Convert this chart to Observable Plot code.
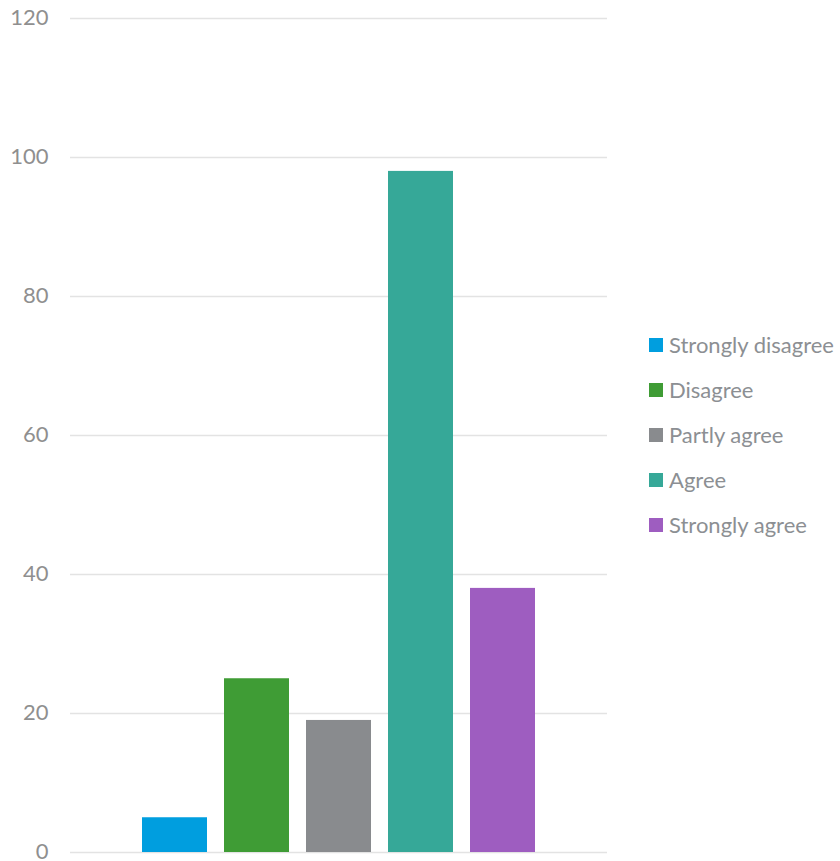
<!DOCTYPE html>
<html>
<head>
<meta charset="utf-8">
<script src="https://cdn.jsdelivr.net/npm/d3@7"></script>
<script src="https://cdn.jsdelivr.net/npm/@observablehq/plot@0.6"></script>
<style>
  html, body { margin: 0; padding: 0; background: #fff; }
  #wrap { position: relative; width: 840px; height: 861px; font-family: Lato, "Open Sans", sans-serif; }
  #legend { position: absolute; left: 649px; top: 322px; }
  .item { display: flex; align-items: center; height: 45px; font-size: 22px; color: #8c8f93; white-space: nowrap; }
  .sw { width: 14px; height: 14px; margin-right: 6px; flex: none; }
</style>
</head>
<body>
<div id="wrap"><div id="legend"></div></div>
<script>
const categories = ["Strongly disagree", "Disagree", "Partly agree", "Agree", "Strongly agree"];
const values = [5, 25, 19, 98, 38];
const colors = ["#009EDF", "#3F9C35", "#898B8E", "#36A898", "#9E5DC0"];
const yTicks = [0, 20, 40, 60, 80, 100, 120];

const data = categories.map((c, i) => ({category: c, value: values[i]}));

const chart = Plot.plot({
  width: 840,
  height: 861,
  marginTop: 18,
  marginBottom: 9,
  marginLeft: 70,
  marginRight: 233,
  style: {fontFamily: "Lato, 'Open Sans', sans-serif", fontSize: "22px", color: "#8f8f8f", background: "#fff", overflow: "visible"},
  x: {domain: categories, paddingInner: 0.212, paddingOuter: 0.86, axis: null},
  y: {domain: [0, 120], ticks: yTicks, label: null},
  color: {domain: categories, range: colors},
  marks: [
    Plot.gridY(yTicks, {stroke: "#e3e3e3", strokeOpacity: 1, strokeWidth: 1.5}),
    Plot.axisY(yTicks, {tickSize: 0, tickPadding: 22, fill: "#8f8f8f", fontSize: 22, dy: -1, label: null}),
    Plot.barY(data, {x: "category", y: "value", fill: "category"})
  ]
});
document.getElementById("wrap").prepend(chart);

const legend = document.getElementById("legend");
categories.forEach((c, i) => {
  const row = document.createElement("div");
  row.className = "item";
  const sw = document.createElement("span");
  sw.className = "sw";
  sw.style.background = colors[i];
  const t = document.createElement("span");
  t.textContent = c;
  row.append(sw, t);
  legend.append(row);
});
</script>
</body>
</html>
